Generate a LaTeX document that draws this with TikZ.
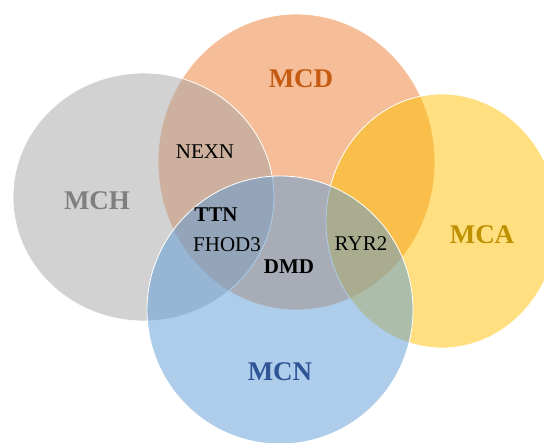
\documentclass[tikz,border=0pt]{standalone}
\usepackage{fontspec}
\setmainfont{Liberation Serif}
\usetikzlibrary{shapes.geometric}

\definecolor{mcdFill}{HTML}{ED7D31}
\definecolor{mchFill}{HTML}{A5A5A5}
\definecolor{mcaFill}{HTML}{FFC000}
\definecolor{mcnFill}{HTML}{5B9BD5}
\definecolor{mcdText}{HTML}{C55A11}
\definecolor{mchText}{HTML}{7F7F7F}
\definecolor{mcaText}{HTML}{BF9000}
\definecolor{mcnText}{HTML}{2F5597}

\tikzset{
    setshape/.style={ellipse, inner sep=0pt, fill opacity=0.5, draw=white, line width=0.8pt},
    setlabel/.style={font=\fontsize{27}{27}\selectfont\bfseries},
    gene/.style={font=\fontsize{21}{21}\selectfont, text=black}
}

\begin{document}
\begin{tikzpicture}[x=1pt, y=-1pt]
        \useasboundingbox (0,0) rectangle (544,443);
        \clip (0,0) rectangle (544,443);
        % the four sets
        \node[setshape, fill=mcdFill, minimum width=277pt, minimum height=296pt] (MCDset) at (296.5,162) {};
        \node[setshape, fill=mchFill, minimum width=261pt, minimum height=248pt] (MCHset) at (143.5,197) {};
        \node[setshape, fill=mcaFill, minimum width=232pt, minimum height=254pt] (MCAset) at (442,221) {};
        \node[setshape, fill=mcnFill, minimum width=266pt, minimum height=268pt] (MCNset) at (280,310) {};
        % set names
        \node[setlabel, text=mcdText] (MCD) at (301,79) {MCD};
        \node[setlabel, text=mchText] (MCH) at (97,201) {MCH};
        \node[setlabel, text=mcaText] (MCA) at (482,235) {MCA};
        \node[setlabel, text=mcnText] (MCN) at (280,372) {MCN};
        % shared genes
        \node[gene] (NEXN) at (205,152) {NEXN};
        \node[gene, font=\fontsize{21}{21}\selectfont\bfseries] (TTN) at (216,215) {TTN};
        \node[gene] (FHOD3) at (227,245) {FHOD3};
        \node[gene, font=\fontsize{21}{21}\selectfont\bfseries] (DMD) at (289,267) {DMD};
        \node[gene] (RYR2) at (361,244) {RYR2};
    \end{tikzpicture}
\end{document}
